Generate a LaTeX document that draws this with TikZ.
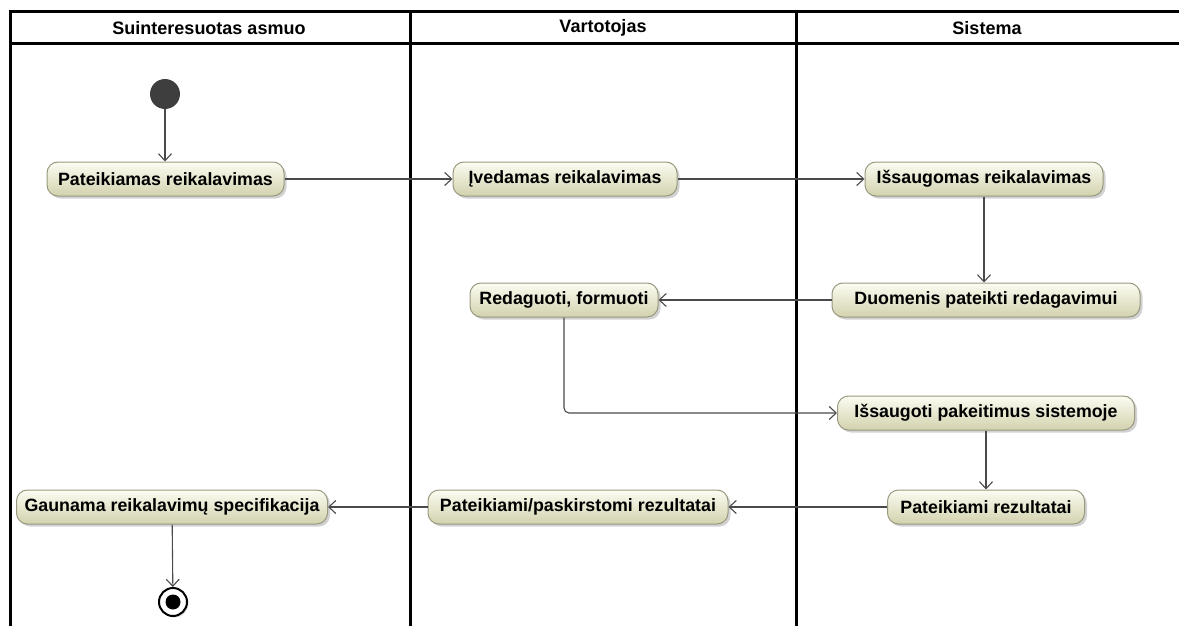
\documentclass[tikz,border=0pt]{standalone}
\usepackage{fontspec}
\setmainfont{Liberation Sans}
\usetikzlibrary{arrows.meta,shadows}

\definecolor{linegray}{HTML}{4A4A4A}
\definecolor{actborder}{HTML}{999980}
\definecolor{acttop}{HTML}{FCFCF2}
\definecolor{actbottom}{HTML}{D2D2AE}
\definecolor{startfill}{HTML}{3E3E3E}

\tikzset{
  lane/.style={line width=3pt, draw=black, line cap=rect},
  lanetitle/.style={font=\fontsize{18}{21}\selectfont\bfseries, text=black, inner sep=0pt},
  activity/.style={
    rounded corners=11pt, draw=actborder, line width=1pt,
    top color=acttop, bottom color=actbottom,
    minimum height=34pt, inner xsep=8pt, inner ysep=0pt,
    font=\fontsize{17.8}{20}\selectfont\bfseries, text=black,
    drop shadow={shadow xshift=2.5pt, shadow yshift=-2.5pt, opacity=0.35, fill=gray}
  },
  flow/.style={draw=linegray, line width=1.1pt,
    -{Straight Barb[length=7pt,width=13pt,line width=1.1pt]}},
  initial/.style={circle, fill=startfill, minimum size=30pt, inner sep=0pt},
  final/.style={circle, draw=black, line width=2pt, fill=white, minimum size=28pt, inner sep=0pt,
    drop shadow={shadow xshift=1.5pt, shadow yshift=-1.5pt, opacity=0.3, fill=gray}},
}

\begin{document}
\begin{tikzpicture}[x=1pt,y=-1pt]
\useasboundingbox (0,0) rectangle (1179,626);
\fill[white] (0,0) rectangle (1179,626);

% swimlane frame
\draw[lane] (1179,12) -- (10,12) -- (10,626);
\draw[lane] (10,44) -- (1179,44);
\draw[lane] (410,12) -- (410,626);
\draw[lane] (796,12) -- (796,626);

\node[lanetitle] (h1) at (209,28) {Suinteresuotas asmuo};
\node[lanetitle] (h2) at (603,28) {Vartotojas};
\node[lanetitle] (h3) at (987,28) {Sistema};

% start and end
\node[initial] (start) at (165,94) {};
\node[final] (end) at (173,602) {};
\fill[black] (end.center) circle (7.5pt);

% activities
\node[activity, minimum width=237pt] (A) at (165.5,179) {Pateikiamas reikalavimas};
\node[activity, minimum width=224pt] (B) at (565,179) {Įvedamas reikalavimas};
\node[activity, minimum width=238pt] (C) at (984,179) {Išsaugomas reikalavimas};
\node[activity, minimum width=308pt] (D) at (986,300) {Duomenis pateikti redagavimui};
\node[activity, minimum width=188pt] (E) at (564,300) {Redaguoti, formuoti};
\node[activity, minimum width=297pt] (F) at (986,413) {Išsaugoti pakeitimus sistemoje};
\node[activity, minimum width=197pt] (G) at (986,507) {Pateikiami rezultatai};
\node[activity, minimum width=300pt] (H) at (578,507) {Pateikiami/paskirstomi rezultatai};
\node[activity, minimum width=311pt] (I) at (172,507) {Gaunama reikalavimų specifikacija};

% control flow
\draw[flow] (start) -- (A.north -| start);
\draw[flow] (A) -- (B);
\draw[flow] (B) -- (C);
\draw[flow] (C) -- (D.north -| C);
\draw[flow] (D) -- (E);
\draw[flow, rounded corners=5pt] (E.south) |- (F.west);
\draw[flow] (F) -- (G);
\draw[flow] (G) -- (H);
\draw[flow] (H) -- (I);
\draw[flow] (I) -- (end);
\end{tikzpicture}
\end{document}
